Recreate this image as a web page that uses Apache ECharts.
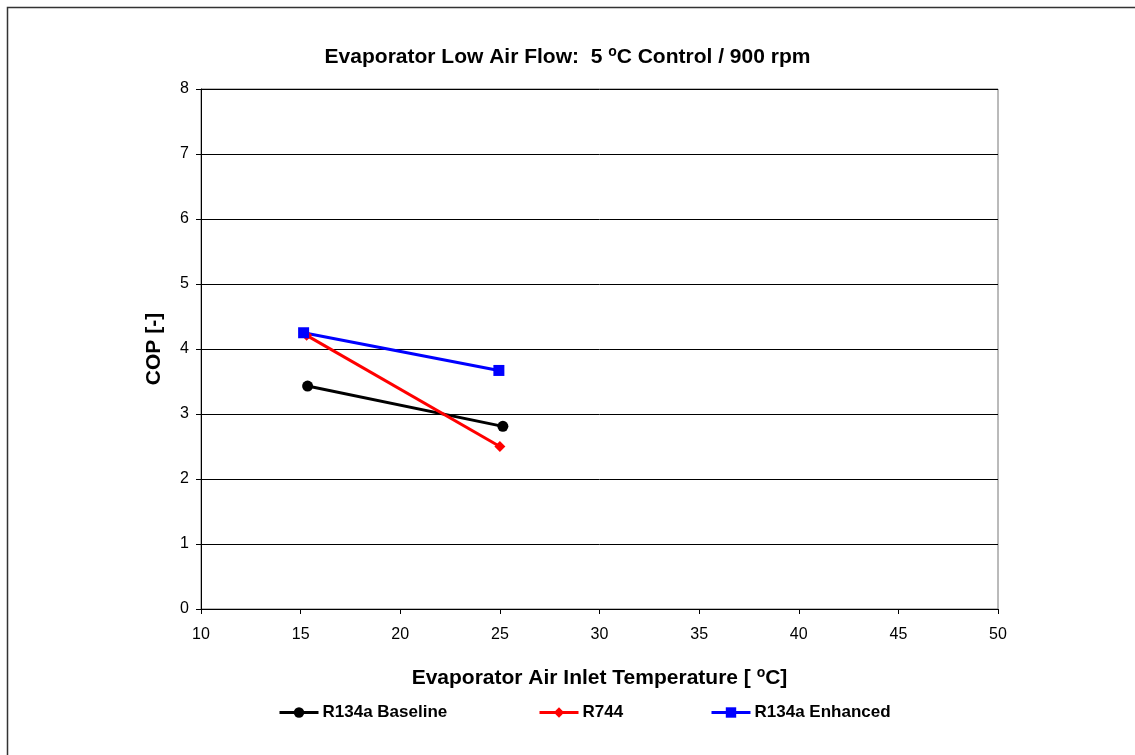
<!DOCTYPE html>
<html>
<head>
<meta charset="utf-8">
<script src="https://cdn.jsdelivr.net/npm/echarts@6/dist/echarts.min.js"></script>
<style>
    html, body { margin: 0; padding: 0; background: #fff; }
    #main { width: 1135px; height: 755px; }
</style>
</head>
<body>
<div id="main"></div>
<script>
// data
let baselineTemp = [15.35, 25.15];
let baselineCop = [3.43, 2.81];
let r744Temp = [15.3, 25.0];
let r744Cop = [4.21, 2.50];
let enhancedTemp = [15.15, 24.95];
let enhancedCop = [4.25, 3.67];
let seriesNames = ['R134a Baseline', 'R744', 'R134a Enhanced'];

function pairs(xs, ys) {
    return xs.map(function (x, i) { return [x, ys[i]]; });
}

window.addEventListener('load', function () {
    let chart = echarts.init(document.getElementById('main'));
    let font = 'Arial, "Liberation Sans", sans-serif';
    let legendText = { fontFamily: font, fontSize: 17, fontWeight: 'bold', color: '#000', padding: [0, 0, 0, -1] };
    function legendAt(name, left) {
        return {
            data: [name],
            top: 704,
            left: left,
            padding: 0,
            itemWidth: 39,
            itemHeight: 13,
            itemGap: 0,
            lineStyle: { width: 3 },
            textStyle: legendText
        };
    }
    let option = {
        animation: false,
        backgroundColor: '#fff',
        textStyle: { fontFamily: font },
        graphic: [{
            type: 'rect',
            shape: { x: 7.5, y: 7.5, width: 1140, height: 760 },
            style: { fill: 'none', stroke: '#333', lineWidth: 1.5 }
        }],
        title: {
            text: '{t|Evaporator Low Air Flow:  5 }{s|o}{t|C Control / 900 rpm}',
            left: 'center',
            top: 40,
            textStyle: {
                rich: {
                    t: { fontFamily: font, fontSize: 21, fontWeight: 'bold', color: '#000' },
                    s: { fontFamily: font, fontSize: 14, fontWeight: 'bold', color: '#000', verticalAlign: 'top', padding: [0, 0, 10, 0] }
                }
            }
        },
        legend: [
            legendAt(seriesNames[0], 278),
            legendAt(seriesNames[1], 538),
            legendAt(seriesNames[2], 710)
        ],
        grid: { left: 201, top: 89, width: 797, height: 520, show: true, borderColor: '#777', borderWidth: 1 },
        xAxis: {
            type: 'value',
            min: 10, max: 50, interval: 5,
            name: '{t|Evaporator Air Inlet Temperature [ }{s|o}{t|C]}',
            nameLocation: 'middle',
            nameGap: 57,
            nameTextStyle: {
                rich: {
                    t: { fontFamily: font, fontSize: 21, fontWeight: 'bold', color: '#000' },
                    s: { fontFamily: font, fontSize: 14, fontWeight: 'bold', color: '#000', verticalAlign: 'top', padding: [0, 0, 10, 0] }
                }
            },
            axisLine: { onZero: false, lineStyle: { color: '#000', width: 1 } },
            axisTick: { show: true, length: 5, lineStyle: { color: '#000' } },
            axisLabel: { margin: 18, fontSize: 16, color: '#000', fontFamily: font },
            splitLine: { show: false }
        },
        yAxis: {
            type: 'value',
            min: 0, max: 8, interval: 1,
            name: 'COP [-]',
            nameLocation: 'middle',
            nameGap: 36,
            nameTextStyle: { fontFamily: font, fontSize: 21, fontWeight: 'bold', color: '#000' },
            axisLine: { show: true, lineStyle: { color: '#000', width: 1 } },
            axisTick: { show: true, length: 5, lineStyle: { color: '#000' } },
            axisLabel: { margin: 12, fontSize: 16, color: '#000', fontFamily: font },
            splitLine: { show: true, lineStyle: { color: '#000', width: 1 } }
        },
        series: [
            {
                name: seriesNames[0],
                type: 'line',
                data: pairs(baselineTemp, baselineCop),
                symbol: 'circle',
                symbolSize: 11,
                color: '#000',
                lineStyle: { width: 3, color: '#000' }
            },
            {
                name: seriesNames[1],
                type: 'line',
                data: pairs(r744Temp, r744Cop),
                symbol: 'diamond',
                symbolSize: 11,
                color: '#ff0000',
                lineStyle: { width: 3, color: '#ff0000' }
            },
            {
                name: seriesNames[2],
                type: 'line',
                data: pairs(enhancedTemp, enhancedCop),
                symbol: 'rect',
                symbolSize: 11,
                color: '#0000ff',
                lineStyle: { width: 3, color: '#0000ff' }
            }
        ]
    };
    chart.setOption(option);
}, false);
</script>
</body>
</html>
